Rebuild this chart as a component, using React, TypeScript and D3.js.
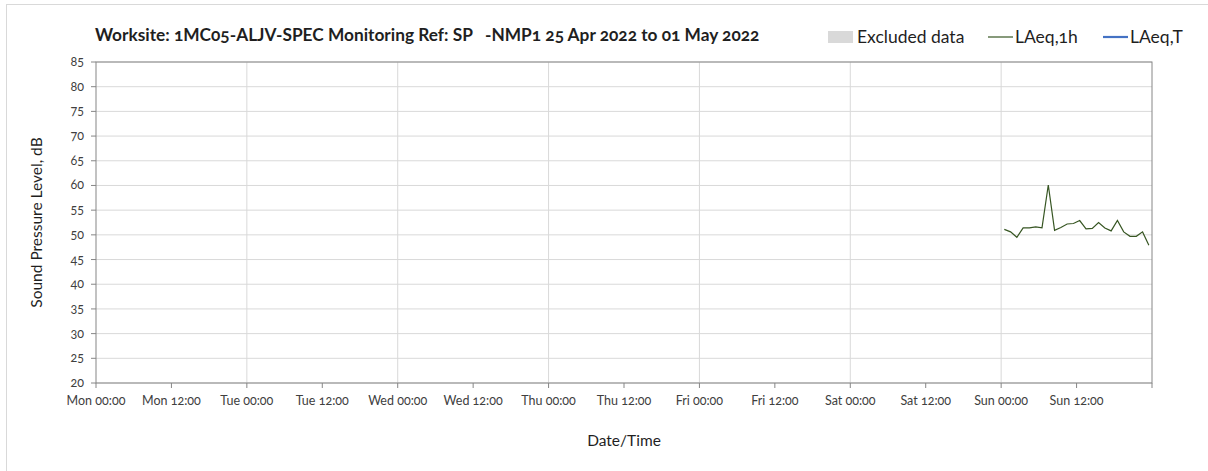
import * as d3 from "d3";
import { ReactElement } from "react";

// chart text
const titleText = "Worksite: 1MC05-ALJV-SPEC Monitoring Ref: SP   -NMP1 25 Apr 2022 to 01 May 2022";
const yTitle = "Sound Pressure Level, dB";
const xTitle = "Date/Time";
const legendNames = ["Excluded data", "LAeq,1h", "LAeq,T"];

// axis extents
const periodStart = new Date(2022, 3, 25, 0, 0);
const periodEnd = new Date(2022, 4, 2, 0, 0);
const yTicks = [20, 25, 30, 35, 40, 45, 50, 55, 60, 65, 70, 75, 80, 85];

// LAeq,1h readings on Sun 01 May 2022, one per hour from 00:30
const laeq1hStart = new Date(2022, 4, 1, 0, 30);
const laeq1hValues = [
    51.1, 50.6, 49.5, 51.4, 51.4, 51.6, 51.4, 60.1, 50.9, 51.5, 52.2, 52.3,
    52.9, 51.2, 51.3, 52.5, 51.4, 50.8, 52.9, 50.6, 49.7, 49.7, 50.6, 47.9,
];

const font = "Lato, 'Open Sans', sans-serif";

const App = (): ReactElement => {
    const width = 1208;
    const height = 471;
    const marginLeft = 96;
    const marginRight = 56;
    const marginTop = 62;
    const plotBottom = 383;

    const xScale = d3.scaleTime()
        .domain([periodStart, periodEnd])
        .range([marginLeft, width - marginRight]);

    const yScale = d3.scaleLinear()
        .domain([20, 85])
        .range([plotBottom, marginTop]);

    const halfDays = d3.timeHour.every(12)!.range(periodStart, d3.timeHour.offset(periodEnd, 1));
    const days = d3.timeDay.range(d3.timeDay.offset(periodStart, 1), periodEnd);
    const fmt = d3.timeFormat("%a %H:%M");

    const laeq1h = laeq1hValues.map((v, i) => ({ t: d3.timeHour.offset(laeq1hStart, i), v }));
    const line = d3.line<{ t: Date; v: number }>()
        .x((d) => xScale(d.t))
        .y((d) => yScale(d.v));

    const plotRight = width - marginRight;
    const numStyle = { fontVariantNumeric: "oldstyle-nums", fontFeatureSettings: "'onum' 1" } as const;

    return (
        <div style={{ position: "absolute", left: 0, top: 0 }}>
            <svg width={width} height={height} style={{ display: "block", fontFamily: font }}>
                <rect x={0} y={0} width={width} height={height} fill="#fff" />
                <rect x={6.5} y={4.5} width={width + 20} height={height + 20} fill="none" stroke="#d9d9d9" />

                {/* horizontal grid */}
                {yTicks.map((t) => (
                    <line key={"h" + t} x1={marginLeft} x2={plotRight} y1={yScale(t)} y2={yScale(t)} stroke="#d9d9d9" />
                ))}
                {/* vertical grid, one per day */}
                {days.map((d) => (
                    <line key={"v" + d.getTime()} x1={xScale(d)} x2={xScale(d)} y1={marginTop} y2={plotBottom} stroke="#d9d9d9" />
                ))}

                {/* plot border */}
                <rect x={marginLeft} y={marginTop} width={plotRight - marginLeft} height={plotBottom - marginTop}
                    fill="none" stroke="#868686" />

                {/* y axis */}
                {yTicks.map((t) => (
                    <g key={"y" + t}>
                        <line x1={marginLeft - 5} x2={marginLeft} y1={yScale(t)} y2={yScale(t)} stroke="#868686" />
                        <text x={marginLeft - 12} y={yScale(t)} dy="0.32em" textAnchor="end" fontSize={12.5}
                            fill="#404040" style={numStyle}>{t}</text>
                    </g>
                ))}

                {/* x axis */}
                {halfDays.map((d, i) => (
                    <g key={"x" + d.getTime()}>
                        <line x1={xScale(d)} x2={xScale(d)} y1={plotBottom} y2={plotBottom + 5} stroke="#868686" />
                        {i < halfDays.length - 1 && (
                            <text x={xScale(d)} y={plotBottom + 18} dy="0.32em" textAnchor="middle" fontSize={12.5}
                                fill="#404040" style={numStyle}>{fmt(d)}</text>
                        )}
                    </g>
                ))}

                {/* data */}
                <path d={line(laeq1h)!} fill="none" stroke="#375623" strokeWidth={1.2} />

                {/* titles */}
                <text x={95} y={35} dy="0.32em" fontSize={17.3} fontWeight="bold" fill="#1f1f1f"
                    style={{ ...numStyle, whiteSpace: "pre" }}>{titleText}</text>
                <text transform={`translate(37,${(marginTop + plotBottom) / 2}) rotate(-90)`} dy="0.32em"
                    textAnchor="middle" fontSize={15.5} fill="#1f1f1f">{yTitle}</text>
                <text x={(marginLeft + plotRight) / 2} y={441} dy="0.32em" textAnchor="middle" fontSize={15.5}
                    fill="#1f1f1f">{xTitle}</text>

                {/* legend */}
                <rect x={828} y={31} width={25} height={12} fill="#d9d9d9" />
                <text x={857} y={37} dy="0.32em" fontSize={17.5} fill="#1f1f1f">{legendNames[0]}</text>
                <line x1={988} x2={1013} y1={37} y2={37} stroke="#375623" strokeWidth={1.2} />
                <text x={1015} y={37} dy="0.32em" fontSize={17.5} fill="#1f1f1f" style={numStyle}>{legendNames[1]}</text>
                <line x1={1103} x2={1128} y1={37} y2={37} stroke="#4472c4" strokeWidth={2.2} />
                <text x={1130} y={37} dy="0.32em" fontSize={17.5} fill="#1f1f1f">{legendNames[2]}</text>
            </svg>
        </div>
    );
};

export default App;
